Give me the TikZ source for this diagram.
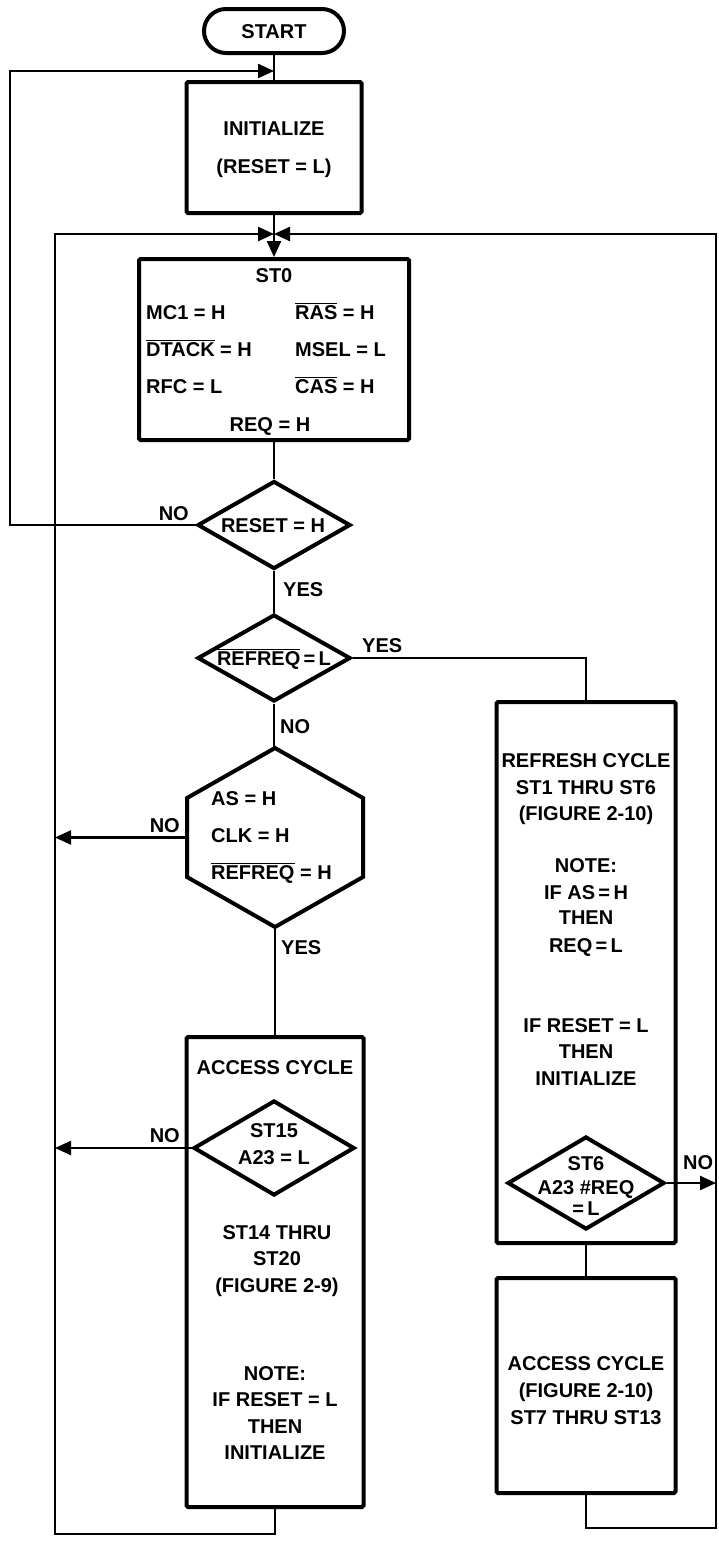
\documentclass[tikz,border=0pt]{standalone}
\usepackage{fontspec}
\setmainfont{Liberation Sans}
\usetikzlibrary{shapes.geometric,arrows.meta}
\newcommand\ovl[1]{$\overline{\hbox{#1}}$}
\newcommand\tx[5]{\node[#1] (#2) at (#3,#4) {#5};}
\begin{document}
\begin{tikzpicture}[x=1pt,y=-1pt,
  font=\fontsize{20}{24}\selectfont\bfseries,
  box/.style={draw, line width=4pt, inner sep=0pt, rounded corners=1.5pt},
  dia/.style={draw, diamond, line width=4pt, inner sep=0pt},
  ln/.style={line width=2.4pt},
  arr/.style={ln, -{Triangle[length=16pt,width=14pt]}},
  lbl/.style={inner sep=0pt, anchor=base},
  lblw/.style={inner sep=0pt, anchor=base west},
  lble/.style={inner sep=0pt, anchor=base east}]
\fill[white] (0,0) rectangle (718,1543);
\useasboundingbox (0,0) rectangle (718,1543);

% ---- shapes ----
\node[box, rounded corners=22pt, minimum width=140pt, minimum height=44pt] (start) at (274,31) {};
\node[box, minimum width=175pt, minimum height=131pt] (init) at (274,147.5) {};
\node[box, minimum width=270pt, minimum height=181pt] (st0) at (274,349.5) {};
\node[dia, minimum width=153pt, minimum height=88pt] (reset) at (274,525) {};
\node[dia, minimum width=153pt, minimum height=87pt] (refreq) at (274,658) {};
\node[inner sep=0pt, outer sep=0pt, minimum width=176pt, minimum height=179pt] (hex) at (275,837.5) {};
\draw[line width=4pt, line join=miter]
  (hex.north) -- ([yshift=-50pt]hex.north east) -- ([yshift=50pt]hex.south east)
  -- (hex.south) -- ([yshift=50pt]hex.south west) -- ([yshift=-50pt]hex.north west) -- cycle;
\node[box, minimum width=177pt, minimum height=470pt] (acc1) at (275,1272) {};
\node[dia, fill=white, minimum width=161pt, minimum height=95pt] (st15) at (274,1148) {};
\node[box, minimum width=179pt, minimum height=541pt] (refresh) at (586,972.5) {};
\node[dia, fill=white, minimum width=157pt, minimum height=93pt] (st6) at (586,1183) {};
\node[box, minimum width=179pt, minimum height=215pt] (acc2) at (586,1385.5) {};

% ---- connectors ----
\coordinate (m1) at (274,71);
\coordinate (oL) at (10,71);
\coordinate (m2) at (274,234);
\coordinate (iLt) at (55,234);
\coordinate (iLb) at (55,1534);
\coordinate (rLt) at (716,234);
\coordinate (rLb) at (716,1528);
\draw[ln] (start) -- (init);
\draw[arr] (reset.west) -| (oL) -- (m1);
\draw[ln] (init) -- (m2);
\draw[arr] (m2) -- (st0);
\draw[arr] (acc1.south -| hex.south) |- (iLb) -- (iLt) -- (m2);
\draw[arr] (acc2.south) |- (rLb) -- (rLt) -- (m2);
\draw[ln] (st0) -- (reset);
\draw[ln] (reset) -- (refreq);
\draw[ln] (refreq.east) -| (refresh.north);
\draw[ln] (refreq.south) -- (refreq.south |- hex.north);
\draw[arr] (hex.west) -- (hex.west -| iLt);
\draw[ln] (hex.south) -- (hex.south |- acc1.north);
\draw[arr] (st15.west) -- (st15.west -| iLt);
\draw[ln] (refresh) -- (acc2);
\draw[arr] (st6.east) -- (st6.east -| rLt);

% ---- texts ----
\tx{lbl}{tStart}{274}{38}{START}
\tx{lbl}{tInit1}{274}{135}{INITIALIZE}
\tx{lbl}{tInit2}{274}{173}{(RESET = L)}
\tx{lbl}{tS0}{274}{282}{ST0}
\tx{lblw}{tS1}{146}{319}{MC1 = H}
\tx{lblw}{tS2}{295}{319}{\ovl{RAS} = H}
\tx{lblw}{tS3}{146}{356}{\ovl{DTACK} = H}
\tx{lblw}{tS4}{295}{356}{MSEL = L}
\tx{lblw}{tS5}{146}{393}{RFC = L}
\tx{lblw}{tS6}{295}{393}{\ovl{CAS} = H}
\tx{lbl}{tS7}{270}{431}{REQ = H}
\tx{lbl}{tReset}{273}{532}{RESET = H}
\tx{lble}{tNo1}{189}{520}{NO}
\tx{lblw}{tYes1}{283}{596}{YES}
\tx{lbl}{tRefreq}{274}{665}{\ovl{REFREQ}\,=\,L}
\tx{lblw}{tYes2}{362}{652}{YES}
\tx{lblw}{tNo2}{280}{733}{NO}
\tx{lblw}{tH1}{211}{805}{AS = H}
\tx{lblw}{tH2}{211}{842}{CLK = H}
\tx{lblw}{tH3}{211}{879}{\ovl{REFREQ} = H}
\tx{lble}{tNo3}{180}{832}{NO}
\tx{lblw}{tYes3}{281}{954}{YES}
\tx{lbl}{tA1}{275}{1074}{ACCESS CYCLE}
\tx{lbl}{tA2}{274}{1137}{ST15}
\tx{lbl}{tA3}{274}{1164}{A23 = L}
\tx{lble}{tNo4}{180}{1142}{NO}
\tx{lbl}{tA4}{277}{1239}{ST14 THRU}
\tx{lbl}{tA5}{277}{1265}{ST20}
\tx{lbl}{tA6}{277}{1292}{(FIGURE 2-9)}
\tx{lbl}{tA7}{275}{1380}{NOTE:}
\tx{lbl}{tA8}{275}{1406}{IF RESET = L}
\tx{lbl}{tA9}{275}{1433}{THEN}
\tx{lbl}{tA10}{275}{1459}{INITIALIZE}
\tx{lbl}{tR1}{586}{767}{REFRESH CYCLE}
\tx{lbl}{tR2}{586}{794}{ST1 THRU ST6}
\tx{lbl}{tR3}{586}{820}{(FIGURE 2-10)}
\tx{lbl}{tR4}{586}{872}{NOTE:}
\tx{lbl}{tR5}{586}{899}{IF AS\,=\,H}
\tx{lbl}{tR6}{586}{924}{THEN}
\tx{lbl}{tR7}{586}{952}{REQ\,=\,L}
\tx{lbl}{tR8}{586}{1032}{IF RESET = L}
\tx{lbl}{tR9}{586}{1058}{THEN}
\tx{lbl}{tR10}{586}{1085}{INITIALIZE}
\tx{lbl}{tD1}{586}{1170}{ST6}
\tx{lbl}{tD2}{586}{1194}{A23 \#REQ}
\tx{lbl}{tD3}{586}{1215}{=\,L}
\tx{lblw}{tNo5}{683}{1169}{NO}
\tx{lbl}{tB1}{586}{1370}{ACCESS CYCLE}
\tx{lbl}{tB2}{586}{1397}{(FIGURE 2-10)}
\tx{lbl}{tB3}{586}{1424}{ST7 THRU ST13}
\end{tikzpicture}
\end{document}
